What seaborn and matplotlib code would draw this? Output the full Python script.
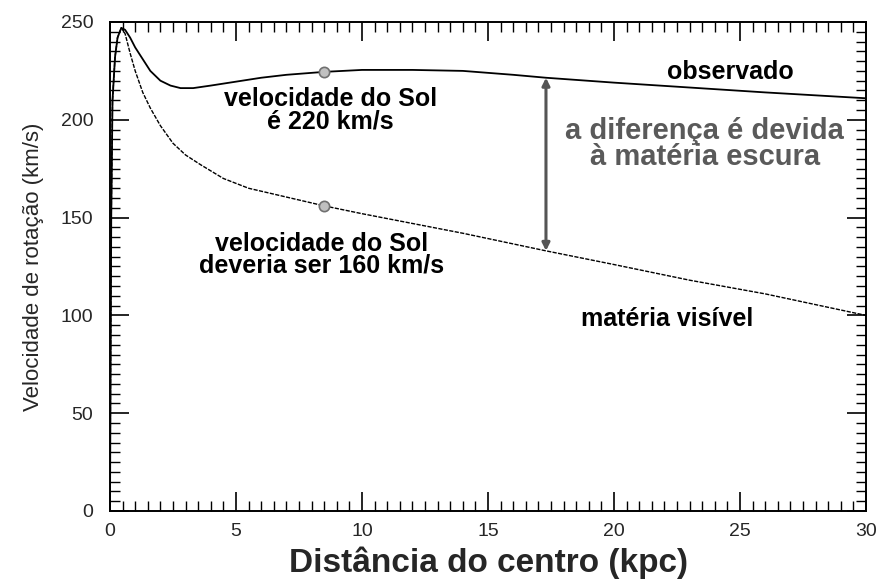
import matplotlib
matplotlib.use("Agg")
import matplotlib.pyplot as plt
import numpy as np
import seaborn as sns
from matplotlib.ticker import MultipleLocator

# curves (kpc, km/s)
dist_obs = [0.0, 0.05, 0.1, 0.2, 0.3, 0.45, 0.6, 0.8, 1.0, 1.3, 1.6, 2.0, 2.4, 2.8, 3.3, 4.0,
            5.0, 6.0, 7.0, 8.5, 10.0, 12.0, 14.0, 16.0, 17.3, 20.0, 23.0, 26.0, 30.0]
vel_obs = [0, 150, 210, 232, 242, 247, 246, 242, 237, 231, 225, 220, 217.5, 216.2, 216.2, 217.5,
           219.5, 221.5, 223, 224.5, 225.5, 225.5, 225, 223, 221.5, 219, 216.5, 214, 211]

dist_vis = [0.0, 0.05, 0.1, 0.2, 0.3, 0.45, 0.6, 0.8, 1.0, 1.3, 1.6, 2.0, 2.5, 3.0, 3.6, 4.5,
            5.5, 6.5, 7.5, 8.5, 10.0, 12.0, 14.0, 17.3, 20.0, 23.0, 26.0, 30.0]
vel_vis = [0, 150, 210, 232, 242, 247, 244, 234, 225, 214, 206, 197, 188, 182, 177, 170,
           165, 162, 159, 156, 152, 147, 142, 133, 126, 118, 111, 100]

sun_dist = 8.5
sun_vel = [224.5, 156]
arrow_dist = 17.3
arrow_vel = [221.5, 133]

sns.set_theme(style="white")
plt.rcParams['font.family'] = ['Liberation Sans', 'DejaVu Sans']

fig = plt.figure(figsize=(8.82, 5.85), dpi=100)
ax = fig.add_axes([0.1247, 0.1265, 0.8572, 0.8359])

sns.lineplot(x=dist_obs, y=vel_obs, ax=ax, color='black', linewidth=1.3)
sns.lineplot(x=dist_vis, y=vel_vis, ax=ax, color='black', linewidth=1.0, linestyle=(0, (3, 1)))
sns.scatterplot(x=[sun_dist, sun_dist], y=sun_vel, ax=ax, s=55, color='#c0c0c0',
                edgecolor='#707070', linewidth=1.2, zorder=5)

ax.annotate('', xy=(arrow_dist, arrow_vel[0]), xytext=(arrow_dist, arrow_vel[1]),
            arrowprops=dict(arrowstyle='<|-|>', color='#555555', lw=2.2,
                            mutation_scale=11, shrinkA=0, shrinkB=0))

bold = dict(fontweight='bold', fontsize=18, color='black', ha='center', va='center',
            linespacing=0.9)
ax.text(8.75, 205, 'velocidade do Sol\né 220 km/s', **bold)
ax.text(8.4, 131, 'velocidade do Sol\ndeveria ser 160 km/s', **bold)
ax.text(24.6, 224.5, 'observado', **bold)
ax.text(22.1, 98, 'matéria visível', **bold)
ax.text(23.6, 187.5, 'a diferença é devida\nà matéria escura', fontweight='heavy', fontsize=21,
        color='#5a5a5a', ha='center', va='center', linespacing=0.9)

ax.set_xlim(0, 30)
ax.set_ylim(0, 250)
ax.xaxis.set_major_locator(MultipleLocator(5))
ax.xaxis.set_minor_locator(MultipleLocator(0.5))
ax.yaxis.set_major_locator(MultipleLocator(50))
ax.yaxis.set_minor_locator(MultipleLocator(5))
ax.tick_params(which='both', direction='in', top=True, right=True, bottom=True, left=True,
               color='black', labelsize=14)
ax.tick_params(axis='x', pad=9)
ax.tick_params(axis='y', pad=12)
ax.tick_params(which='major', length=14, width=1.2)
ax.tick_params(which='minor', length=7, width=1.0)
for sp in ax.spines.values():
    sp.set_color('black')
    sp.set_linewidth(1.4)

ax.set_xlabel('Distância do centro (kpc)', fontsize=24, fontweight='bold')
ax.xaxis.set_label_coords(0.5, -0.072)
ax.set_ylabel('Velocidade de rotação (km/s)', fontsize=16, labelpad=12)

plt.savefig('out.png', dpi=100)
